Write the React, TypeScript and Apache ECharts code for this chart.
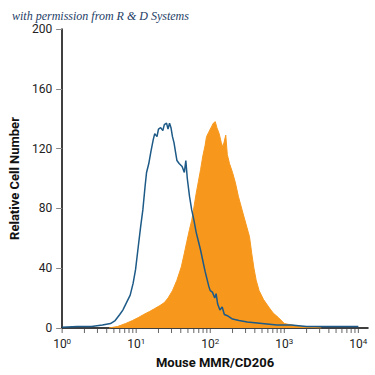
import React, { useEffect, useRef } from "react";
import * as echarts from "echarts";

// Isotype control (blue outline): fluorescence intensity vs relative cell number
const controlIntensity = [
  1.0, 1.6, 2.5, 3.5, 4.5, 5.2, 6.0, 6.6, 7.4, 8.3, 9.1, 9.8, 10.7, 11.5, 12.3, 13.2, 13.8,
  14.8, 15.8, 17.0, 17.8, 19.1, 20.0, 21.4, 22.9, 24.0, 25.7, 26.9, 28.2, 29.5, 30.9, 32.4,
  33.9, 35.5, 38.0, 41.7, 44.7, 46.8, 49.0, 52.5, 56.2, 60.3, 64.6, 69.2, 74.1, 79.4, 85.1,
  89.1, 95.5, 100, 107, 115, 120, 126, 135, 145, 155, 174, 200, 245, 316, 501, 794, 1230,
  1995, 3090, 6310, 10000,
];
const controlCount = [
  0.5, 1, 1, 2, 3, 5, 9, 12, 17, 22, 30, 39, 55, 68, 79, 95, 104,
  110, 118, 126, 130, 128, 133, 134, 132, 136, 137, 133, 137, 134, 128, 124,
  118, 112, 110, 108, 104, 112, 100, 88, 79, 72, 64, 58, 52, 45, 38,
  34, 28, 25, 24, 20, 23, 16, 12, 14, 9, 8, 6, 5, 4, 3, 2, 2,
  1, 1, 1, 1,
];

// Mouse MMR/CD206 stained (orange filled)
const stainedIntensity = [
  4.3, 5.6, 7.2, 8.9, 10.7, 12.6, 15.1, 17.8, 20.9, 24.0, 26.9, 30.9, 35.5, 40.7, 44.7,
  47.9, 52.5, 56.2, 60.3, 64.6, 69.2, 74.1, 79.4, 85.1, 89.1, 95.5, 100, 105, 110, 117,
  123, 132, 141, 148, 155, 162, 170, 182, 200, 219, 240, 269, 302, 339, 363, 389, 417,
  457, 525, 617, 708, 832, 1000, 1259, 1660, 2239, 3162,
];
const stainedCount = [
  0, 1, 3, 5, 7, 9, 11, 13, 15, 17, 20, 25, 32, 41, 50,
  57, 66, 72, 81, 90, 98, 106, 115, 122, 128, 131, 133, 135, 137, 138,
  134, 130, 124, 121, 125, 129, 116, 110, 104, 97, 88, 79, 70, 61, 50, 40, 32,
  25, 19, 14, 10, 7, 3, 2, 1, 0.5, 0,
];

const decadeTicks = [1, 10, 100, 1000, 10000];
const minorTicks: number[] = [];
for (let d = 0; d < 4; d++) {
  for (let k = 2; k <= 9; k++) minorTicks.push(k * Math.pow(10, d));
}

const FONT = "Roboto, 'Liberation Sans', sans-serif";

export default function App() {
  const ref = useRef<HTMLDivElement>(null);
  useEffect(() => {
    if (!ref.current) return;
    const chart = echarts.init(ref.current, undefined, { renderer: "svg" });
    const zip = (xs: number[], ys: number[]) => xs.map((x, i) => [x, ys[i]]);
    const allTicks = [...decadeTicks, ...minorTicks].map((v) => [v, 0]);
    chart.setOption({
      animation: false,
      backgroundColor: "#ffffff",
      graphic: [
        {
          type: "text",
          left: 12,
          top: 10,
          style: {
            text: "with permission from R & D Systems",
            font: "italic 12px 'Liberation Serif', 'DejaVu Serif', serif",
            fill: "#1e3d66",
          },
        },
      ],
      grid: { left: 55, right: 7, top: 29, bottom: 47, containLabel: false },
      xAxis: {
        type: "log",
        logBase: 10,
        min: 1,
        max: 13500,
        name: "Mouse MMR/CD206",
        nameLocation: "middle",
        nameGap: 28,
        nameTextStyle: { fontFamily: FONT, fontWeight: "bold", fontSize: 13, color: "#111" },
        axisLine: { lineStyle: { color: "#000", width: 1.5 } },
        axisTick: { show: false },
        splitLine: { show: false },
        minorTick: { show: false },
        axisLabel: {
          showMaxLabel: false,
          margin: 9,
          formatter: (v: number) => `{b|10}{s|${Math.round(Math.log10(v))}}`,
          rich: {
            b: { fontFamily: FONT, fontSize: 12, color: "#222" },
            s: { fontFamily: FONT, fontSize: 8, color: "#222", padding: [0, 0, 6, 0] },
          },
        },
      },
      yAxis: {
        type: "value",
        min: 0,
        max: 200,
        interval: 40,
        name: "Relative Cell Number",
        nameLocation: "middle",
        nameGap: 33,
        nameTextStyle: { fontFamily: FONT, fontWeight: "bold", fontSize: 13, color: "#111" },
        axisLine: { show: true, lineStyle: { color: "#000", width: 1.5 } },
        axisTick: { show: true, length: 6, lineStyle: { color: "#888" } },
        splitLine: { show: false },
        axisLabel: { fontFamily: FONT, fontSize: 12, color: "#222", margin: 10 },
      },
      series: [
        {
          type: "line",
          data: zip(stainedIntensity, stainedCount),
          showSymbol: false,
          symbol: "none",
          lineStyle: { color: "#f7981d", width: 1 },
          areaStyle: { color: "#f7981d", opacity: 1 },
          z: 2,
        },
        {
          type: "line",
          data: zip(controlIntensity, controlCount),
          showSymbol: false,
          symbol: "none",
          lineStyle: { color: "#1d5a87", width: 1.5 },
          z: 3,
        },
        {
          type: "custom",
          data: allTicks,
          clip: false,
          z: 4,
          renderItem: (params: any, api: any) => {
            const p = api.coord([api.value(0), 0]);
            return {
              type: "line",
              shape: { x1: p[0], y1: p[1] + 1, x2: p[0], y2: p[1] + 5 },
              style: { stroke: "#666", lineWidth: 1 },
            };
          },
        },
      ],
    });
    return () => chart.dispose();
  }, []);
  return (
    <div
      ref={ref}
      style={{ position: "fixed", left: 0, top: 0, width: 375, height: 375 }}
    />
  );
}
